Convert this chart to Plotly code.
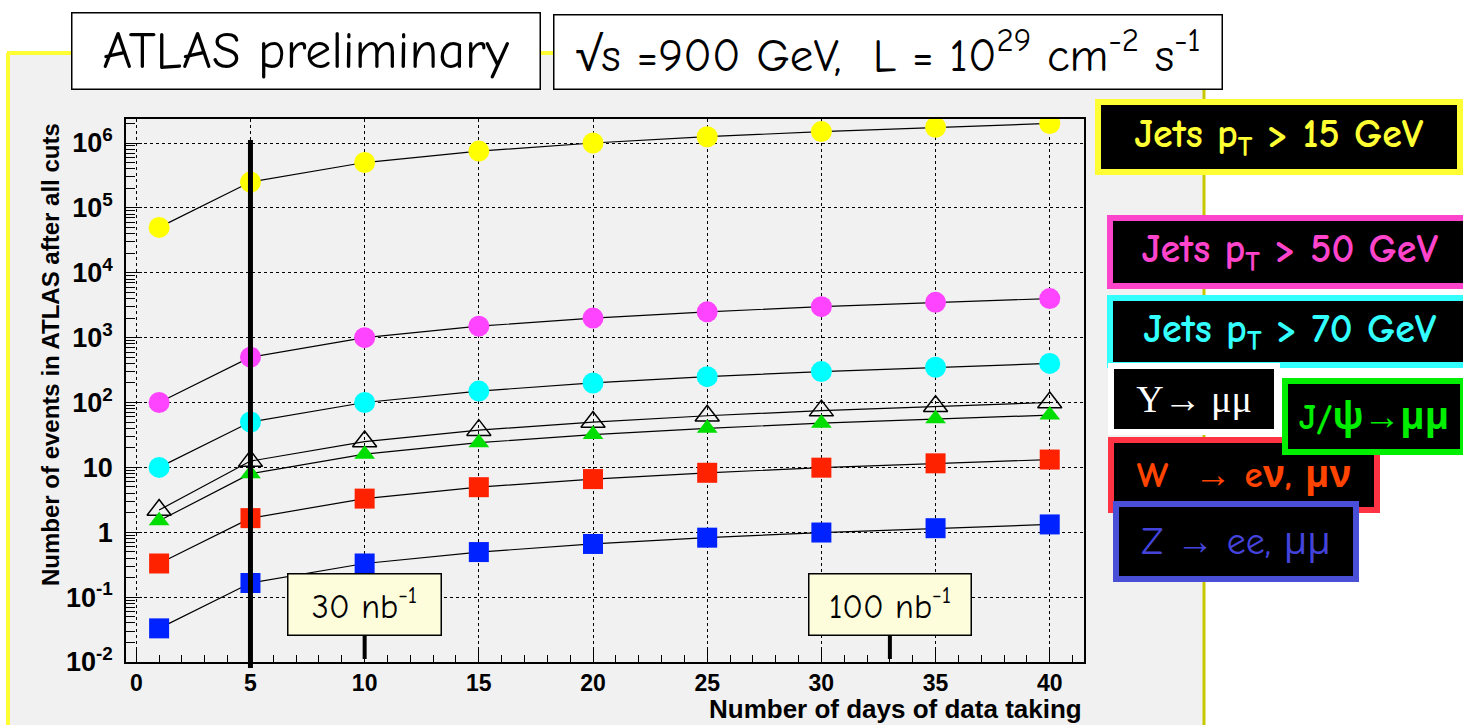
import plotly.graph_objects as go

# ---------------- data ----------------
days = [1, 5, 10, 15, 20, 25, 30, 35, 40]
jets15 = [5.0e4, 2.5e5, 5.0e5, 7.5e5, 1.0e6, 1.25e6, 1.5e6, 1.75e6, 2.0e6]
jets50 = [100, 500, 1000, 1500, 2000, 2500, 3000, 3500, 4000]
jets70 = [10, 50, 100, 150, 200, 250, 300, 350, 400]
upsilon = [2.2, 12.5, 25, 37.5, 50, 62.5, 75, 87.5, 100]
jpsi = [1.5, 8.0, 16, 24, 32, 40, 48, 56, 64]
w_lnu = [0.33, 1.65, 3.3, 4.95, 6.6, 8.25, 9.9, 11.55, 13.2]
z_ll = [0.033, 0.165, 0.33, 0.495, 0.66, 0.825, 0.99, 1.155, 1.32]

y_tickvals = [1e-2, 1e-1, 1, 10, 1e2, 1e3, 1e4, 1e5, 1e6]
y_ticktext = ["10<sup>-2</sup>", "10<sup>-1</sup>", "1", "10", "10<sup>2</sup>",
              "10<sup>3</sup>", "10<sup>4</sup>", "10<sup>5</sup>", "10<sup>6</sup>"]
x_tickvals = [0, 5, 10, 15, 20, 25, 30, 35, 40]

lumi_days = [10, 33]
lumi_labels = ["30 nb<sup>-1</sup>", "100 nb<sup>-1</sup>"]

# ---------------- layout geometry ----------------
W, H = 1463, 725
L, R, T, B = 126, 1084, 119, 662
PW, PH = R - L, B - T
XR = [-0.45, 41.5]
YR = [-2, 6.37]


def px(x):
    return (x - L) / PW


def py(y):
    return (B - y) / PH


def dx(v):
    return (v - XR[0]) / (XR[1] - XR[0])


COMIC = "Comic Sans MS, Comic Neue, Open Sans, sans-serif"
HELV = "Liberation Sans, Arial, sans-serif"

fig = go.Figure()

series = [
    (jets15, "Jets pT > 15 GeV", dict(symbol="circle", size=21, color="#ffff00")),
    (jets50, "Jets pT > 50 GeV", dict(symbol="circle", size=21, color="#ff44ff")),
    (jets70, "Jets pT > 70 GeV", dict(symbol="circle", size=21, color="#00ffff")),
    (upsilon, "Upsilon", dict(symbol="triangle-up-open", size=21, color="black",
                               line=dict(width=1.5, color="black"))),
    (jpsi, "J/psi", dict(symbol="triangle-up", size=18, color="#00dd00")),
    (w_lnu, "W", dict(symbol="square", size=20, color="#ff2200")),
    (z_ll, "Z", dict(symbol="square", size=20, color="#0022ff")),
]
for vals, name, mk in series:
    fig.add_trace(go.Scatter(x=days, y=vals, mode="lines+markers", name=name,
                             line=dict(color="black", width=1.2),
                             marker=mk, showlegend=False))

shapes = []
# grey panel with yellow border
shapes.append(dict(type="rect", xref="paper", yref="paper", x0=px(8), x1=px(1204),
                   y0=py(730), y1=py(53), fillcolor="#f1f1f1", line=dict(width=0),
                   layer="below"))
shapes.append(dict(type="line", xref="paper", yref="paper", x0=px(7), x1=px(1204),
                   y0=py(53), y1=py(53), line=dict(color="#ffff33", width=4)))
shapes.append(dict(type="line", xref="paper", yref="paper", x0=px(8), x1=px(8),
                   y0=py(53), y1=py(730), line=dict(color="#ffff33", width=4)))
shapes.append(dict(type="line", xref="paper", yref="paper", x0=px(1204), x1=px(1204),
                   y0=py(53), y1=py(730), line=dict(color="#c8c800", width=3)))
# thick vertical marker at day 5
shapes.append(dict(type="line", xref="paper", yref="paper", x0=dx(5), x1=dx(5),
                   y0=py(668), y1=py(140), line=dict(color="black", width=5)))
# lumi markers
for d in lumi_days:
    shapes.append(dict(type="line", xref="paper", yref="paper", x0=dx(d), x1=dx(d),
                       y0=py(659), y1=py(634), line=dict(color="black", width=4)))

annotations = []


def box(text, cx, cy, w, h, fg, bg, bc, bw, size, family=COMIC, weight="normal"):
    annotations.append(dict(text=text, xref="paper", yref="paper", x=px(cx), y=py(cy),
                            xanchor="center", yanchor="middle", showarrow=False,
                            width=w - 2 * bw, height=h - 2 * bw, borderpad=0,
                            bgcolor=bg, bordercolor=bc, borderwidth=bw, align="center",
                            valign="middle",
                            font=dict(family=family, size=size, color=fg, weight=weight)))


# header boxes
box("ATLAS preliminary", 306, 51, 470, 78, "black", "white", "black", 1.5, 52)
box("√s =900 GeV,  L = 10<sup>29</sup> cm<sup>-2</sup> s<sup>-1</sup>", 888, 52, 670, 76,
    "black", "white", "black", 1.5, 47)

# lumi boxes
for d, lab, cx, w in zip(lumi_days, lumi_labels, [364, 890], [155, 164]):
    box(lab, cx, 604, w, 63, "black", "#fdfddc", "black", 1.5, 34)

# legend boxes (right)
box("Jets p<sub>T</sub> > 15 GeV", 1279, 137, 368, 76, "#ffff33", "black", "#ffff33", 6, 40,
    weight="bold")
box("Jets p<sub>T</sub> > 50 GeV", 1290, 252, 366, 74, "#ff44cc", "black", "#ff44cc", 6, 40,
    weight="bold")
box("Jets p<sub>T</sub> > 70 GeV", 1290, 331, 366, 73, "#33ffff", "black", "#33ffff", 6, 40,
    weight="bold")
box("Υ→ μμ", 1194, 399, 172, 72, "white", "black", "white", 6, 38,
    family="Liberation Serif, DejaVu Serif, serif")
box("W  → eν, μν", 1244, 475, 272, 76, "#ff4400", "black", "#ff3344", 6, 37,
    weight="bold")
box("J/ψ→μμ", 1374, 416, 184, 77, "#00ee00", "black", "#00ee00", 6, 37, weight="bold")
box("Z → ee, μμ", 1236, 541, 246, 81, "#4444dd", "black", "#4a4fd8", 6, 38)

# axis titles
annotations.append(dict(text="Number of events in ATLAS after all cuts", xref="paper",
                        yref="paper", x=px(50), y=py(355), textangle=-90, showarrow=False,
                        xanchor="center", yanchor="middle",
                        font=dict(family=HELV, size=24, color="black", weight="bold")))
annotations.append(dict(text="Number of days of data taking", xref="paper", yref="paper",
                        x=px(1084), y=py(709), showarrow=False, xanchor="right",
                        yanchor="middle",
                        font=dict(family=HELV, size=26, color="black", weight="bold")))

minor_y = [k * 10.0 ** d for d in range(-2, 7) for k in range(2, 10)]

fig.update_layout(
    width=W, height=H,
    margin=dict(l=L, r=W - R, t=T, b=H - B, autoexpand=False),
    paper_bgcolor="white", plot_bgcolor="#f1f1f1",
    shapes=shapes, annotations=annotations,
    xaxis=dict(range=XR, tickmode="array", tickvals=x_tickvals, ticks="inside",
               ticklen=12, tickwidth=1.2, tickcolor="black",
               showline=True, linecolor="black", linewidth=1.5, mirror=True,
               showgrid=True, gridcolor="black", griddash="dot", gridwidth=1,
               zeroline=False, ticklabelstandoff=0,
               minor=dict(dtick=1, tick0=0, ticks="inside", ticklen=7, tickcolor="black",
                          showgrid=False),
               tickfont=dict(family=HELV, size=23, color="black", weight="bold")),
    yaxis=dict(type="log", range=YR, tickmode="array", tickvals=y_tickvals,
               ticktext=y_ticktext, ticks="inside", ticklen=16, tickwidth=1.2,
               tickcolor="black",
               showline=True, linecolor="black", linewidth=1.5, mirror=True,
               showgrid=True, gridcolor="black", griddash="dot", gridwidth=1,
               zeroline=False, ticklabelstandoff=6,
               minor=dict(tickmode="array", tickvals=minor_y, ticks="inside", ticklen=9,
                          tickcolor="black", showgrid=False),
               tickfont=dict(family=HELV, size=27, color="black", weight="bold")),
)

fig.write_html("out.html")
